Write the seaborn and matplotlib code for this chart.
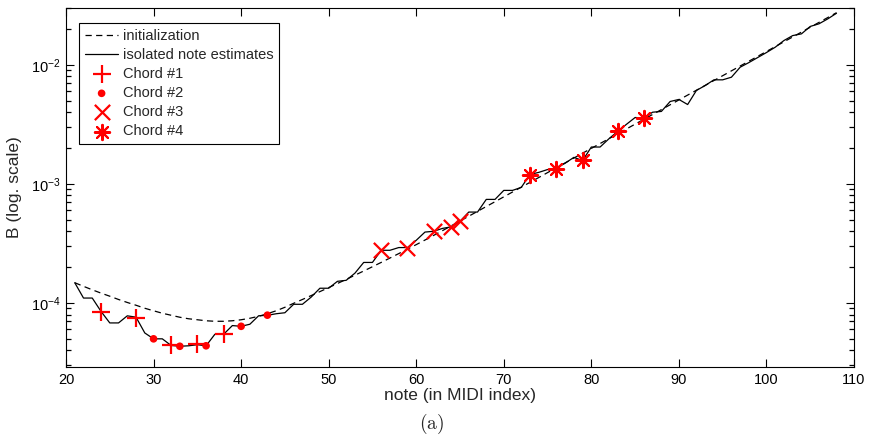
import matplotlib
matplotlib.use("Agg")
import matplotlib.pyplot as plt
from matplotlib.ticker import LogLocator, NullFormatter
import seaborn as sns
import pandas as pd

# MIDI notes of the piano (A0 .. C8)
notes = list(range(21, 109))

# initialization of the inharmonicity coefficient B (dashed)
init_B = [
    1.48e-4, 1.38e-4, 1.29e-4, 1.21e-4, 1.14e-4, 1.07e-4, 1.01e-4, 9.57e-5, 9.03e-5, 8.60e-5,
    8.20e-5, 7.89e-5, 7.59e-5, 7.37e-5, 7.23e-5, 7.09e-5, 7.02e-5, 7.02e-5, 7.09e-5, 7.23e-5,
    7.44e-5, 7.73e-5, 8.12e-5, 8.60e-5, 9.20e-5, 9.94e-5, 1.070e-4, 1.154e-4, 1.246e-4, 1.346e-4,
    1.457e-4, 1.578e-4, 1.711e-4, 1.856e-4, 2.016e-4, 2.191e-4, 2.385e-4, 2.597e-4, 2.833e-4, 3.090e-4,
    3.377e-4, 3.698e-4, 4.050e-4, 4.444e-4, 4.875e-4, 5.354e-4, 5.879e-4, 6.457e-4, 7.088e-4, 7.785e-4,
    8.551e-4, 9.391e-4, 1.031e-3, 1.132e-3, 1.244e-3, 1.366e-3, 1.500e-3, 1.648e-3, 1.810e-3, 1.987e-3,
    2.182e-3, 2.397e-3, 2.632e-3, 2.891e-3, 3.175e-3, 3.487e-3, 3.829e-3, 4.205e-3, 4.617e-3, 5.071e-3,
    5.569e-3, 6.116e-3, 6.716e-3, 7.377e-3, 8.101e-3, 8.897e-3, 9.772e-3, 1.073e-2, 1.178e-2, 1.294e-2,
    1.421e-2, 1.561e-2, 1.714e-2, 1.883e-2, 2.068e-2, 2.271e-2, 2.494e-2, 2.739e-2,
]

# isolated note estimates (solid)
iso_B = [
    1.48e-4, 1.10e-4, 1.10e-4, 8.5e-5, 6.8e-5, 6.8e-5, 7.8e-5, 7.6e-5, 5.6e-5, 5.0e-5,
    5.0e-5, 4.4e-5, 4.33e-5, 4.37e-5, 4.46e-5, 4.37e-5, 5.46e-5, 5.46e-5, 6.46e-5, 6.37e-5,
    6.63e-5, 7.81e-5, 7.88e-5, 8.12e-5, 8.28e-5, 9.75e-5, 9.75e-5, 1.12e-4, 1.33e-4, 1.33e-4,
    1.52e-4, 1.55e-4, 1.78e-4, 2.19e-4, 2.19e-4, 2.77e-4, 2.77e-4, 2.92e-4, 2.92e-4, 3.36e-4,
    3.94e-4, 4.00e-4, 4.23e-4, 4.36e-4, 4.85e-4, 5.80e-4, 5.80e-4, 7.41e-4, 7.41e-4, 8.82e-4,
    8.82e-4, 9.35e-4, 1.20e-3, 1.25e-3, 1.32e-3, 1.36e-3, 1.49e-3, 1.67e-3, 1.57e-3, 2.04e-3,
    2.04e-3, 2.39e-3, 2.76e-3, 3.16e-3, 3.61e-3, 3.58e-3, 4.00e-3, 4.06e-3, 4.92e-3, 5.12e-3,
    4.64e-3, 6.09e-3, 6.70e-3, 7.48e-3, 7.48e-3, 7.87e-3, 9.55e-3, 1.045e-2, 1.151e-2, 1.268e-2,
    1.405e-2, 1.60e-2, 1.76e-2, 1.82e-2, 2.10e-2, 2.21e-2, 2.43e-2, 2.71e-2,
]

# chord estimates
chord1_notes = [24, 28, 32, 35, 38]
chord1_B = [8.4e-5, 7.44e-5, 4.42e-5, 4.50e-5, 5.46e-5]
chord2_notes = [30, 33, 36, 40, 43]
chord2_B = [5.0e-5, 4.33e-5, 4.37e-5, 6.37e-5, 7.9e-5]
chord3_notes = [56, 59, 62, 64, 65]
chord3_B = [2.77e-4, 2.92e-4, 4.00e-4, 4.34e-4, 4.85e-4]
chord4_notes = [73, 76, 79, 83, 86]
chord4_B = [1.194e-3, 1.341e-3, 1.574e-3, 2.773e-3, 3.565e-3]

sns.set_style("white")
plt.rcParams['font.family'] = ['Liberation Sans', 'DejaVu Sans']
plt.rcParams['axes.edgecolor'] = 'black'
plt.rcParams['axes.linewidth'] = 0.8

fig = plt.figure(figsize=(8.71, 4.41), dpi=100)
ax = fig.add_axes([66 / 871, 1 - 367 / 441, (854 - 66) / 871, (367 - 8) / 441])

df = pd.DataFrame({'note': notes, 'init': init_B, 'iso': iso_B})

sns.lineplot(data=df, x='note', y='init', ax=ax, color='black', lw=0.9, label='initialization')
ax.lines[-1].set_dashes([5, 3.5])
sns.lineplot(data=df, x='note', y='iso', ax=ax, color='black', lw=0.9, label='isolated note estimates')

red = '#ff0000'
sns.scatterplot(x=chord1_notes, y=chord1_B, ax=ax, marker='+', s=13 ** 2, color=red,
                linewidth=1.6, label='Chord #1', zorder=5)
sns.scatterplot(x=chord2_notes, y=chord2_B, ax=ax, marker='o', s=5.5 ** 2, color=red,
                edgecolor='none', label='Chord #2', zorder=5)
sns.scatterplot(x=chord3_notes, y=chord3_B, ax=ax, marker='x', s=11 ** 2, color=red,
                linewidth=1.6, label='Chord #3', zorder=5)
# MATLAB '*' = plus and cross together
sns.scatterplot(x=chord4_notes, y=chord4_B, ax=ax, marker=(8, 2, 0), s=11 ** 2, color=red,
                linewidth=1.5, label='Chord #4', zorder=5)

ax.set_xlabel('note (in MIDI index)', fontsize=12.5, labelpad=1)
ax.set_ylabel('B (log. scale)', fontsize=12.5, labelpad=6)

leg = ax.legend(loc='upper left', bbox_to_anchor=(13 / 788, 1 - 15 / 359), borderaxespad=0,
                fontsize=10.5, frameon=True, fancybox=False, framealpha=1,
                edgecolor='black', handlelength=2.3, handletextpad=0.3,
                labelspacing=0.35, borderpad=0.4, scatterpoints=1)
leg.get_frame().set_linewidth(0.8)

fig.text(432 / 871, 1 - 424 / 441, r'$(\mathrm{a})$', ha='center', va='center',
         fontsize=14, math_fontfamily='cm')

# axes scales and MATLAB-like inward ticks
ax.set_yscale('log')
ax.set_xlim(20, 110)
ax.set_ylim(2.9e-5, 3.0e-2)
ax.set_xticks(range(20, 111, 10))
ax.yaxis.set_minor_locator(LogLocator(base=10, subs=[2, 3, 4, 5, 6, 7, 8, 9], numticks=20))
ax.yaxis.set_minor_formatter(NullFormatter())
ax.tick_params(axis='both', which='major', direction='in', length=5.5, width=0.8,
               color='black', labelcolor='black', labelsize=10.5, pad=4,
               left=True, right=True, top=True, bottom=True)
ax.tick_params(axis='y', which='minor', direction='in', length=3.5, width=0.9,
               color='black', left=True, right=True)

fig.savefig('out.png', dpi=100)
